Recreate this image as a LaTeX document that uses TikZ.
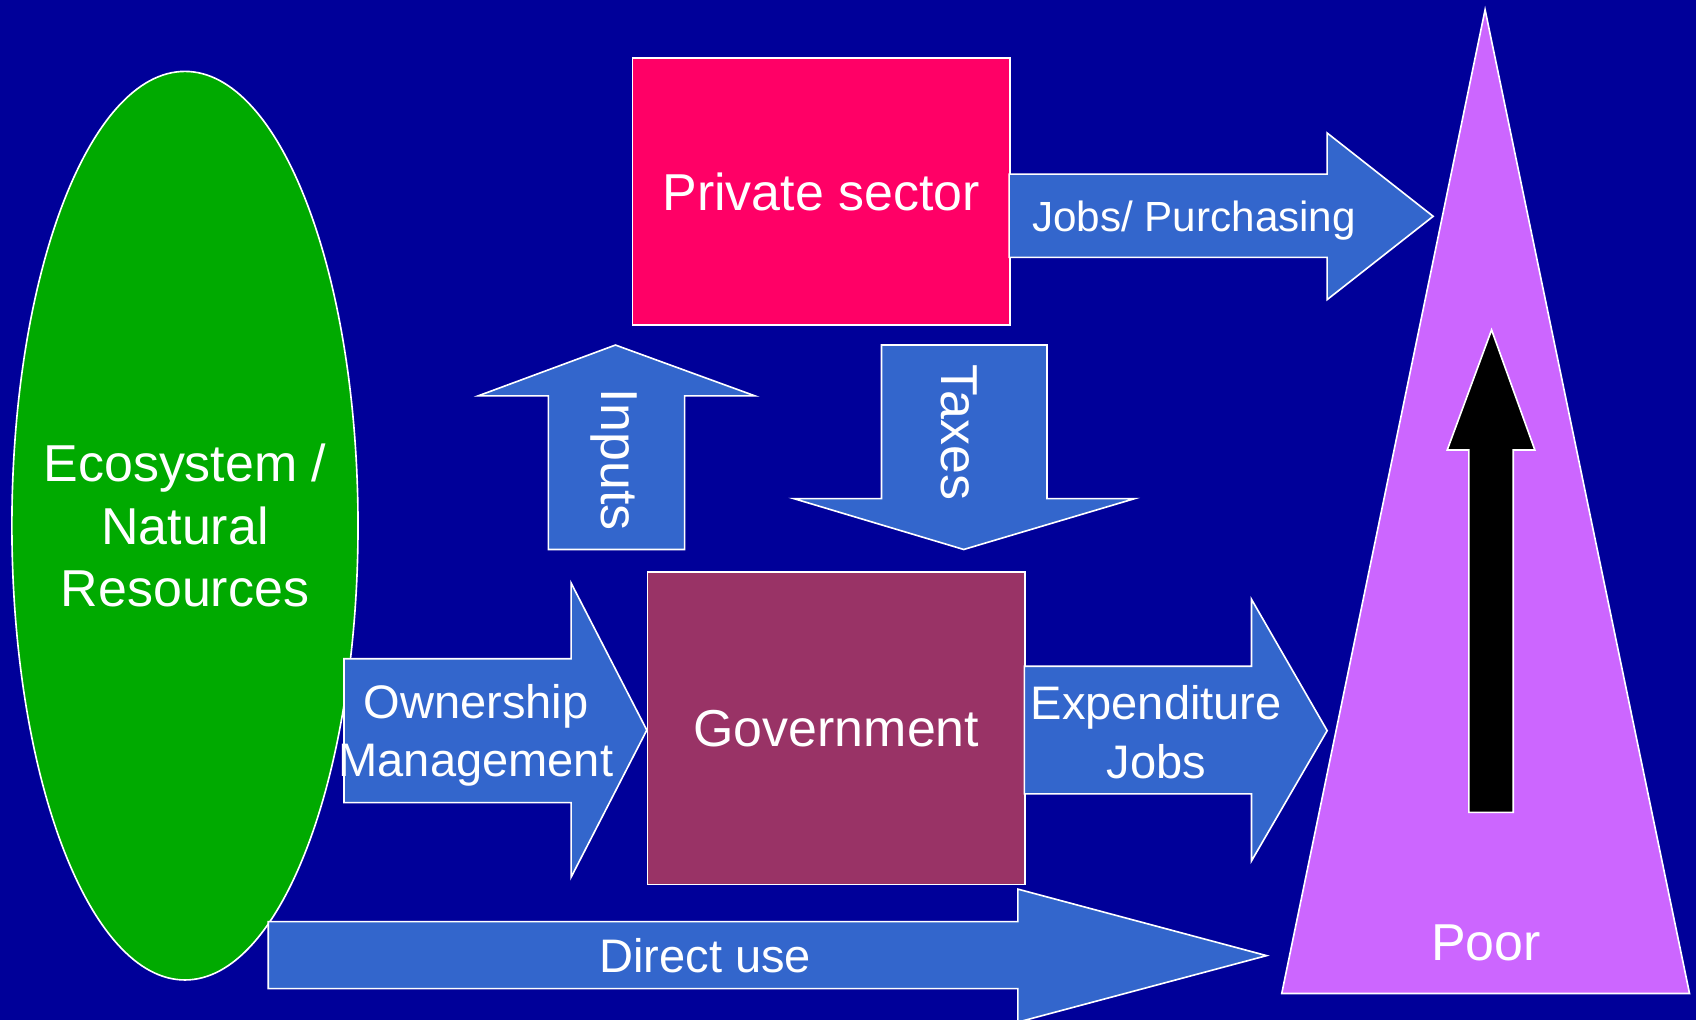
\documentclass[tikz,border=0pt]{standalone}
\usepackage{fontspec}
\setmainfont{Liberation Sans}
\usetikzlibrary{shapes}

\definecolor{bgblue}{HTML}{000099}
\definecolor{ecogreen}{HTML}{00AA00}
\definecolor{privpink}{HTML}{FF0066}
\definecolor{govplum}{HTML}{993366}
\definecolor{flowblue}{HTML}{3366CC}
\definecolor{poorviolet}{HTML}{CC66FF}

\begin{document}
\begin{tikzpicture}[x=1pt, y=-1pt,
    every node/.style={text=white},
    outline/.style={draw=white, line width=1.5pt},
    flow/.style={outline, fill=flowblue},
    bigtext/.style={font=\fontsize{48}{58}\selectfont, align=center},
    midtext/.style={font=\fontsize{43.5}{54}\selectfont, align=center}]
  \fill [bgblue] (0,0) rectangle (1568,943);
  \useasboundingbox (0,0) rectangle (1568,943);
  \node [ellipse, outline, fill=ecogreen, minimum width=320pt, minimum height=840pt, inner sep=0pt](eco) at (171,486){};
  \node [bigtext](ecotext) at (eco.center){Ecosystem /\\Natural\\Resources};
  \draw [flow] (248,852) -- (941,852) -- (941,822) -- (1171,883.5) -- (941,945) -- (941,914) -- (248,914) -- cycle;
  \node [midtext](direct) at (652,884){Direct use};
  \draw [flow] (318,609) -- (528,609) -- (528,539) -- (598,675) -- (528,811) -- (528,742) -- (318,742) -- cycle;
  \node [midtext](own) at (440,680){Ownership\\Management};
  \node [rectangle, outline, fill=privpink, minimum width=349pt, minimum height=247pt, anchor=north west, bigtext](private) at (584,53){Private sector};
  \node [rectangle, outline, fill=govplum, minimum width=349pt, minimum height=289pt, anchor=north west, bigtext](gov) at (598,528){Government};
  \draw [flow] (947,616) -- (1157,616) -- (1157,554) -- (1227,675.5) -- (1157,796) -- (1157,734) -- (947,734) -- cycle;
  \node [midtext](spend) at (1069,677){Expenditure\\Jobs};
  \draw [flow] (933,161) -- (1227,161) -- (1227,123) -- (1325,200) -- (1227,277) -- (1227,238) -- (933,238) -- cycle;
  \node [font=\fontsize{39}{47}\selectfont](jobs) at (1104,204){Jobs/ Purchasing};
  \draw [flow] (507,508) -- (507,366) -- (442,366) -- (569,319) -- (698,366) -- (633,366) -- (633,508) -- cycle;
  \node [bigtext, rotate=-90](inputs) at (568,425){Inputs};
  \draw [flow] (815,319) -- (968,319) -- (968,461) -- (1049,461) -- (891,508) -- (734,461) -- (815,461) -- cycle;
  \node [bigtext, rotate=-90](taxes) at (887,400){Taxes};
  \draw [outline, fill=poorviolet] (1373,9) -- (1562,918.5) -- (1185,918.5) -- cycle;
  \draw [outline, fill=black] (1358,751) -- (1358,416) -- (1338,416) -- (1379,305) -- (1419,416) -- (1399,416) -- (1399,751) -- cycle;
  \node [bigtext](poor) at (1374,872){Poor};
\end{tikzpicture}
\end{document}
